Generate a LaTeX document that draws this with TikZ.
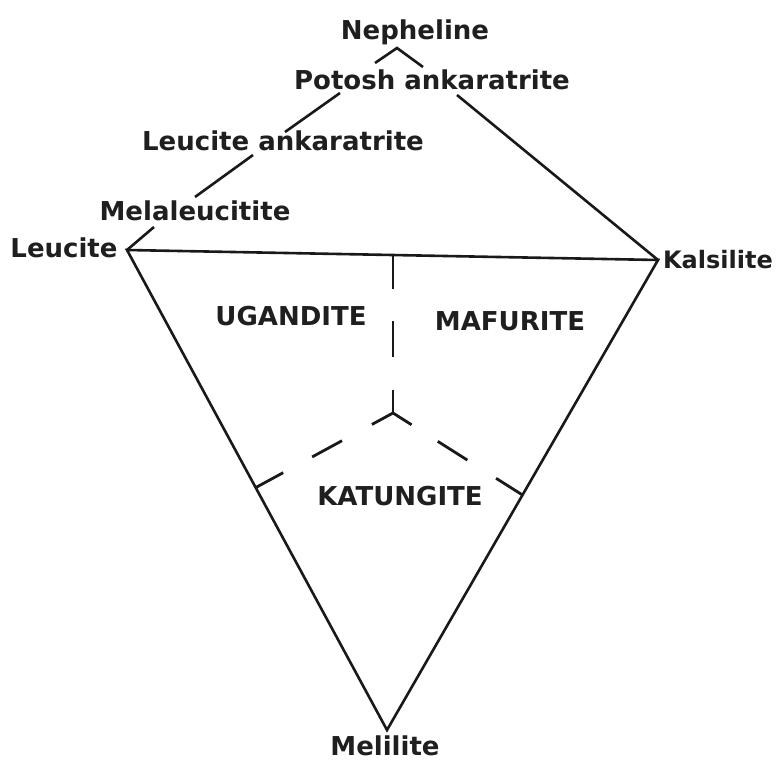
\documentclass[tikz,border=0pt]{standalone}
\usepackage{fontspec}
\setmainfont{DejaVu Sans}
\usetikzlibrary{calc}
\begin{document}
\begin{tikzpicture}[x=1pt,y=-1pt,
  lbl/.style={inner sep=0pt, anchor=base, text=black!88, font=\fontsize{26}{30}\selectfont\bfseries},
  capl/.style={lbl},
  edge/.style={line width=2.6pt, draw=black!90},
  dashL/.style={edge, line width=2.8pt}]
\useasboundingbox[fill=white] (0,0) rectangle (776,761);
% vertices
\coordinate (Le) at (127,250);
\coordinate (Ka) at (658,260);
\coordinate (Me) at (387,730);
% labels
\node[lbl] (neph) at (415,39) {Nepheline};
\node[lbl] (pot) at (432,89) {Potosh ankaratrite};
\node[lbl] (lank) at (283,150) {Leucite ankaratrite};
\node[lbl] (mela) at (195,220) {Melaleucitite};
\node[lbl] (leu) at (64,257) {Leucite};
\node[lbl, font=\fontsize{24}{28}\selectfont\bfseries] (kal) at (718,268) {Kalsilite};
\node[lbl] (mel) at (385,755) {Melilite};
\node[capl] (uga) at (291,325) {UGANDITE};
\node[capl] (maf) at (510,330) {MAFURITE};
\node[capl] (kat) at (400,505) {KATUNGITE};
% triangle
\draw[edge] (Le) -- (Ka) -- (Me) -- cycle;
% chain above
\coordinate (a1) at (154,227);
\coordinate (a2) at (195,197);
\coordinate (a3) at (253,155);
\coordinate (a4) at (285,132);
\coordinate (a5) at (340,93);
\coordinate (a6) at (457,95);
\coordinate (c1) at (375,63);
\coordinate (c2) at (397,48);
\coordinate (c3) at (423,67);
\draw[edge] (Le) -- (a1);
\draw[edge] (a2) -- (a3);
\draw[edge] (a4) -- (a5);
\draw[edge] (a6) -- (Ka);
\draw[edge] (c1) -- (c2) -- (c3);
% dashed field boundaries
\coordinate (J) at (393,413);
\coordinate (T) at (393,255);
\coordinate (L) at ($(Le)!0.495!(Me)$);
\coordinate (R) at ($(Ka)!0.5!(Me)$);
\draw[dashL, dash pattern=on 23pt off 33pt on 36pt off 32pt on 40pt] (J) -- (T);
\draw[dashL, dash pattern=on 24pt off 34pt on 34pt off 33pt on 40pt] (J) -- (L);
\draw[dashL, dash pattern=on 22pt off 31pt on 35pt off 34pt on 40pt] (J) -- (R);
\end{tikzpicture}
\end{document}
